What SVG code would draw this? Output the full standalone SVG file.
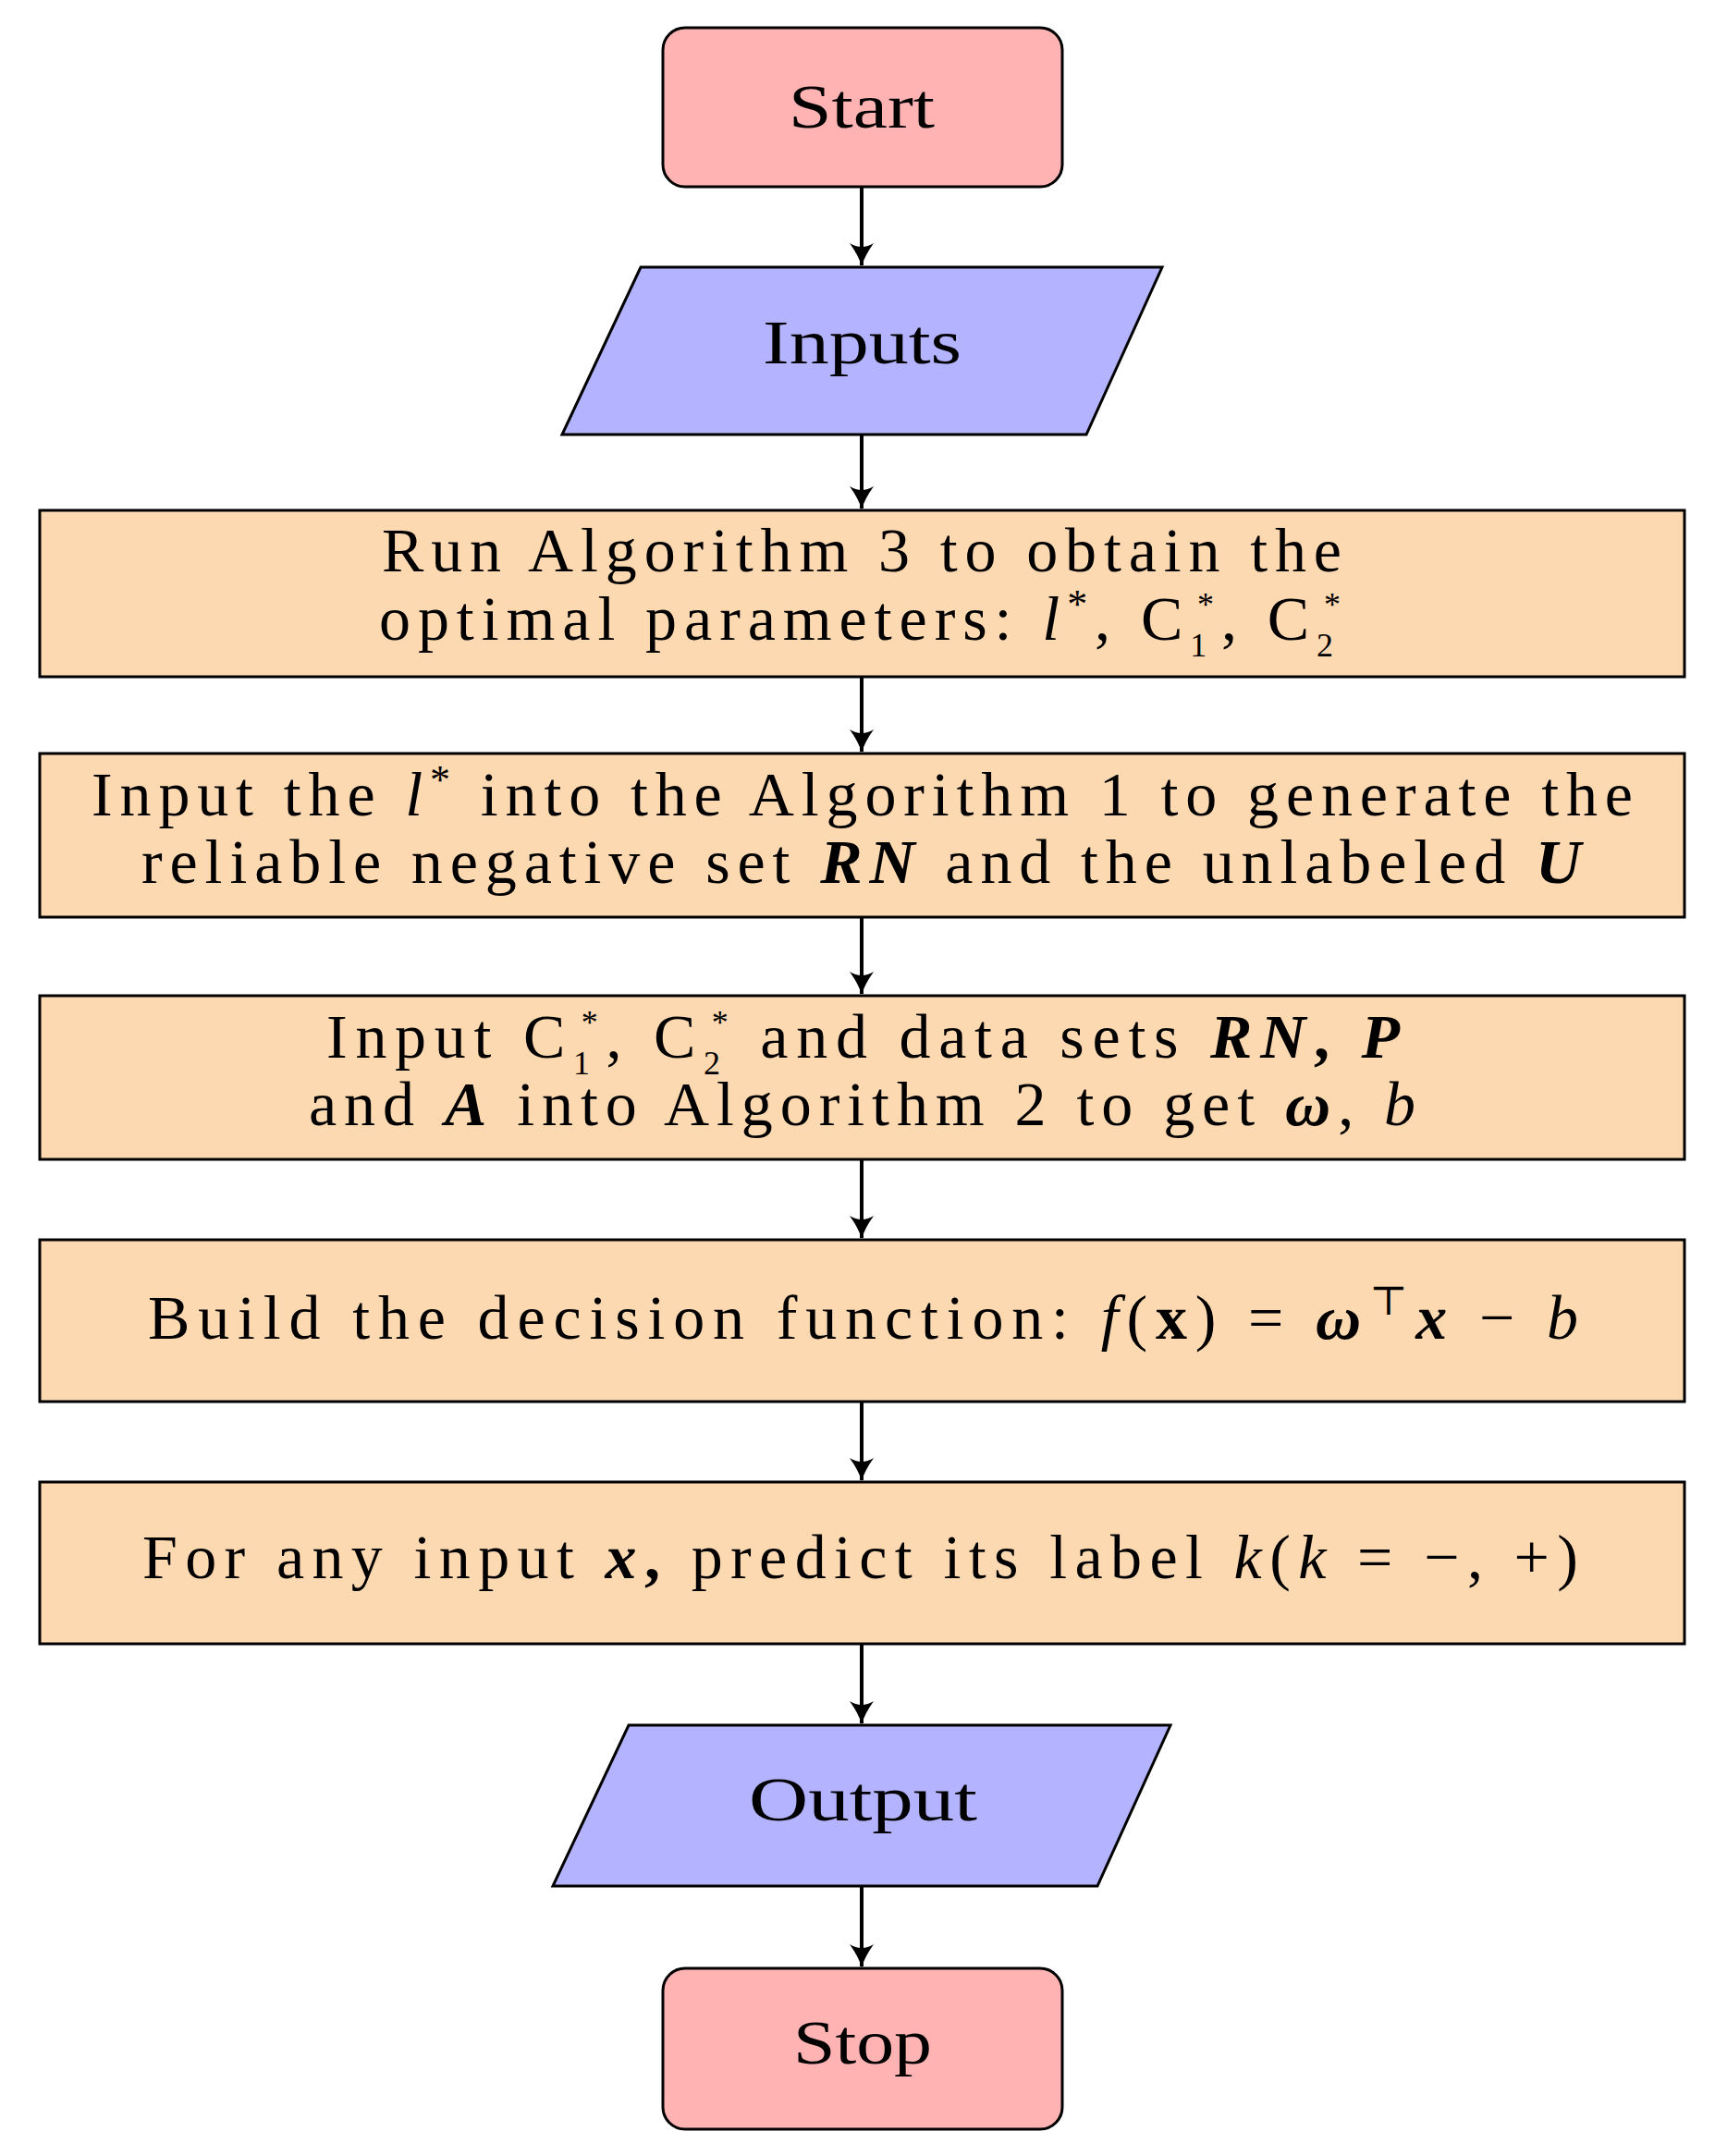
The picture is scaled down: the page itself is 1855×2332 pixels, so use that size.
<svg xmlns="http://www.w3.org/2000/svg" width="1855" height="2332" viewBox="0 0 1855 2332">
<style>
.t{font-family:"Liberation Serif","DejaVu Serif",serif;font-size:68px;fill:#000;text-anchor:start}
.term{fill:#ffb3b3;stroke:#000;stroke-width:3}
.io{fill:#b3b3ff;stroke:#000;stroke-width:3}
.pr{fill:#fdd9b1;stroke:#000;stroke-width:3}
.i{font-style:italic}.b{font-weight:bold;font-style:italic}
.s{font-size:36px}
.c{stroke:#000;stroke-width:4;fill:none;marker-end:url(#ah)}
</style>
<defs><marker id="ah" markerWidth="26" markerHeight="30" refX="24" refY="15" orient="auto" markerUnits="userSpaceOnUse" viewBox="0 0 26 30"><path d="M0,2 Q14,12 25,15 Q14,18 0,28 Q8,15 0,2 Z" fill="#000"/></marker></defs>
<rect width="1855" height="2332" fill="#fff"/>
<g id="start"><rect class="term" x="717" y="30" width="432" height="172" rx="24"/><text class="t" x="853" y="138" textLength="158" lengthAdjust="spacingAndGlyphs">Start</text></g>
<g id="inputs"><polygon class="io" points="693,289 1257,289 1175,470 608,470"/><text class="t" x="825" y="393" textLength="215" lengthAdjust="spacingAndGlyphs">Inputs</text></g>
<g id="step1"><rect class="pr" x="43" y="552" width="1779" height="180"/>
<text class="t" x="413" y="618" textLength="1038" lengthAdjust="spacing">Run Algorithm 3 to obtain the</text>
<text class="t" x="410" y="692" textLength="1040" lengthAdjust="spacing">optimal parameters: <tspan class="i">l</tspan><tspan font-size="44" dy="-24">*</tspan><tspan dy="24">, C</tspan><tspan class="s" dy="18">1</tspan><tspan class="s" dx="-18" dy="-44">*</tspan><tspan dy="26">, C</tspan><tspan class="s" dy="18">2</tspan><tspan class="s" dx="-18" dy="-44">*</tspan></text></g>
<g id="step2"><rect class="pr" x="43" y="815" width="1779" height="177"/>
<text class="t" x="99" y="882" textLength="1667" lengthAdjust="spacing">Input the <tspan class="i">l</tspan><tspan font-size="44" dy="-24">*</tspan><tspan dy="24"> into the Algorithm 1 to generate the</tspan></text>
<text class="t" x="153" y="955" textLength="1557" lengthAdjust="spacing">reliable negative set <tspan class="b">RN</tspan> and the unlabeled <tspan class="b">U</tspan></text></g>
<g id="step3"><rect class="pr" x="43" y="1077" width="1779" height="177"/>
<text class="t" x="353" y="1144" textLength="1161" lengthAdjust="spacing">Input C<tspan class="s" dy="18">1</tspan><tspan class="s" dx="-18" dy="-44">*</tspan><tspan dy="26">, C</tspan><tspan class="s" dy="18">2</tspan><tspan class="s" dx="-18" dy="-44">*</tspan><tspan dy="26"> and data sets </tspan><tspan class="b">RN</tspan><tspan font-weight="bold">,</tspan> <tspan class="b">P</tspan></text>
<text class="t" x="334" y="1217" textLength="1197" lengthAdjust="spacing">and <tspan class="b">A</tspan> into Algorithm 2 to get <tspan class="b">ω</tspan>, <tspan class="i">b</tspan></text></g>
<g id="step4"><rect class="pr" x="43" y="1341" width="1779" height="175"/>
<text class="t" x="160" y="1448" textLength="1547" lengthAdjust="spacing">Build the decision function: <tspan class="i">f</tspan>(<tspan font-weight="bold">x</tspan>) = <tspan class="b">ω</tspan><tspan font-size="44" dy="-26">⊤</tspan><tspan class="b" dy="26">x</tspan> − <tspan class="i">b</tspan></text></g>
<g id="step5"><rect class="pr" x="43" y="1603" width="1779" height="175"/>
<text class="t" x="154" y="1707" textLength="1553" lengthAdjust="spacing">For any input <tspan class="b">x</tspan><tspan font-weight="bold">,</tspan> predict its label <tspan class="i">k</tspan>(<tspan class="i">k</tspan> = −, +)</text></g>
<g id="output"><polygon class="io" points="680,1866 1266,1866 1187,2040 598,2040"/><text class="t" x="810" y="1969" textLength="247" lengthAdjust="spacingAndGlyphs">Output</text></g>
<g id="stop"><rect class="term" x="717" y="2129" width="432" height="174" rx="24"/><text class="t" x="858" y="2232" textLength="150" lengthAdjust="spacingAndGlyphs">Stop</text></g>
<g id="connectors">
<line class="c" x1="932" y1="202" x2="932" y2="287"/>
<line class="c" x1="932" y1="470" x2="932" y2="550"/>
<line class="c" x1="932" y1="732" x2="932" y2="813"/>
<line class="c" x1="932" y1="992" x2="932" y2="1075"/>
<line class="c" x1="932" y1="1254" x2="932" y2="1339"/>
<line class="c" x1="932" y1="1516" x2="932" y2="1601"/>
<line class="c" x1="932" y1="1778" x2="932" y2="1864"/>
<line class="c" x1="932" y1="2040" x2="932" y2="2127"/>
</g>
</svg>
